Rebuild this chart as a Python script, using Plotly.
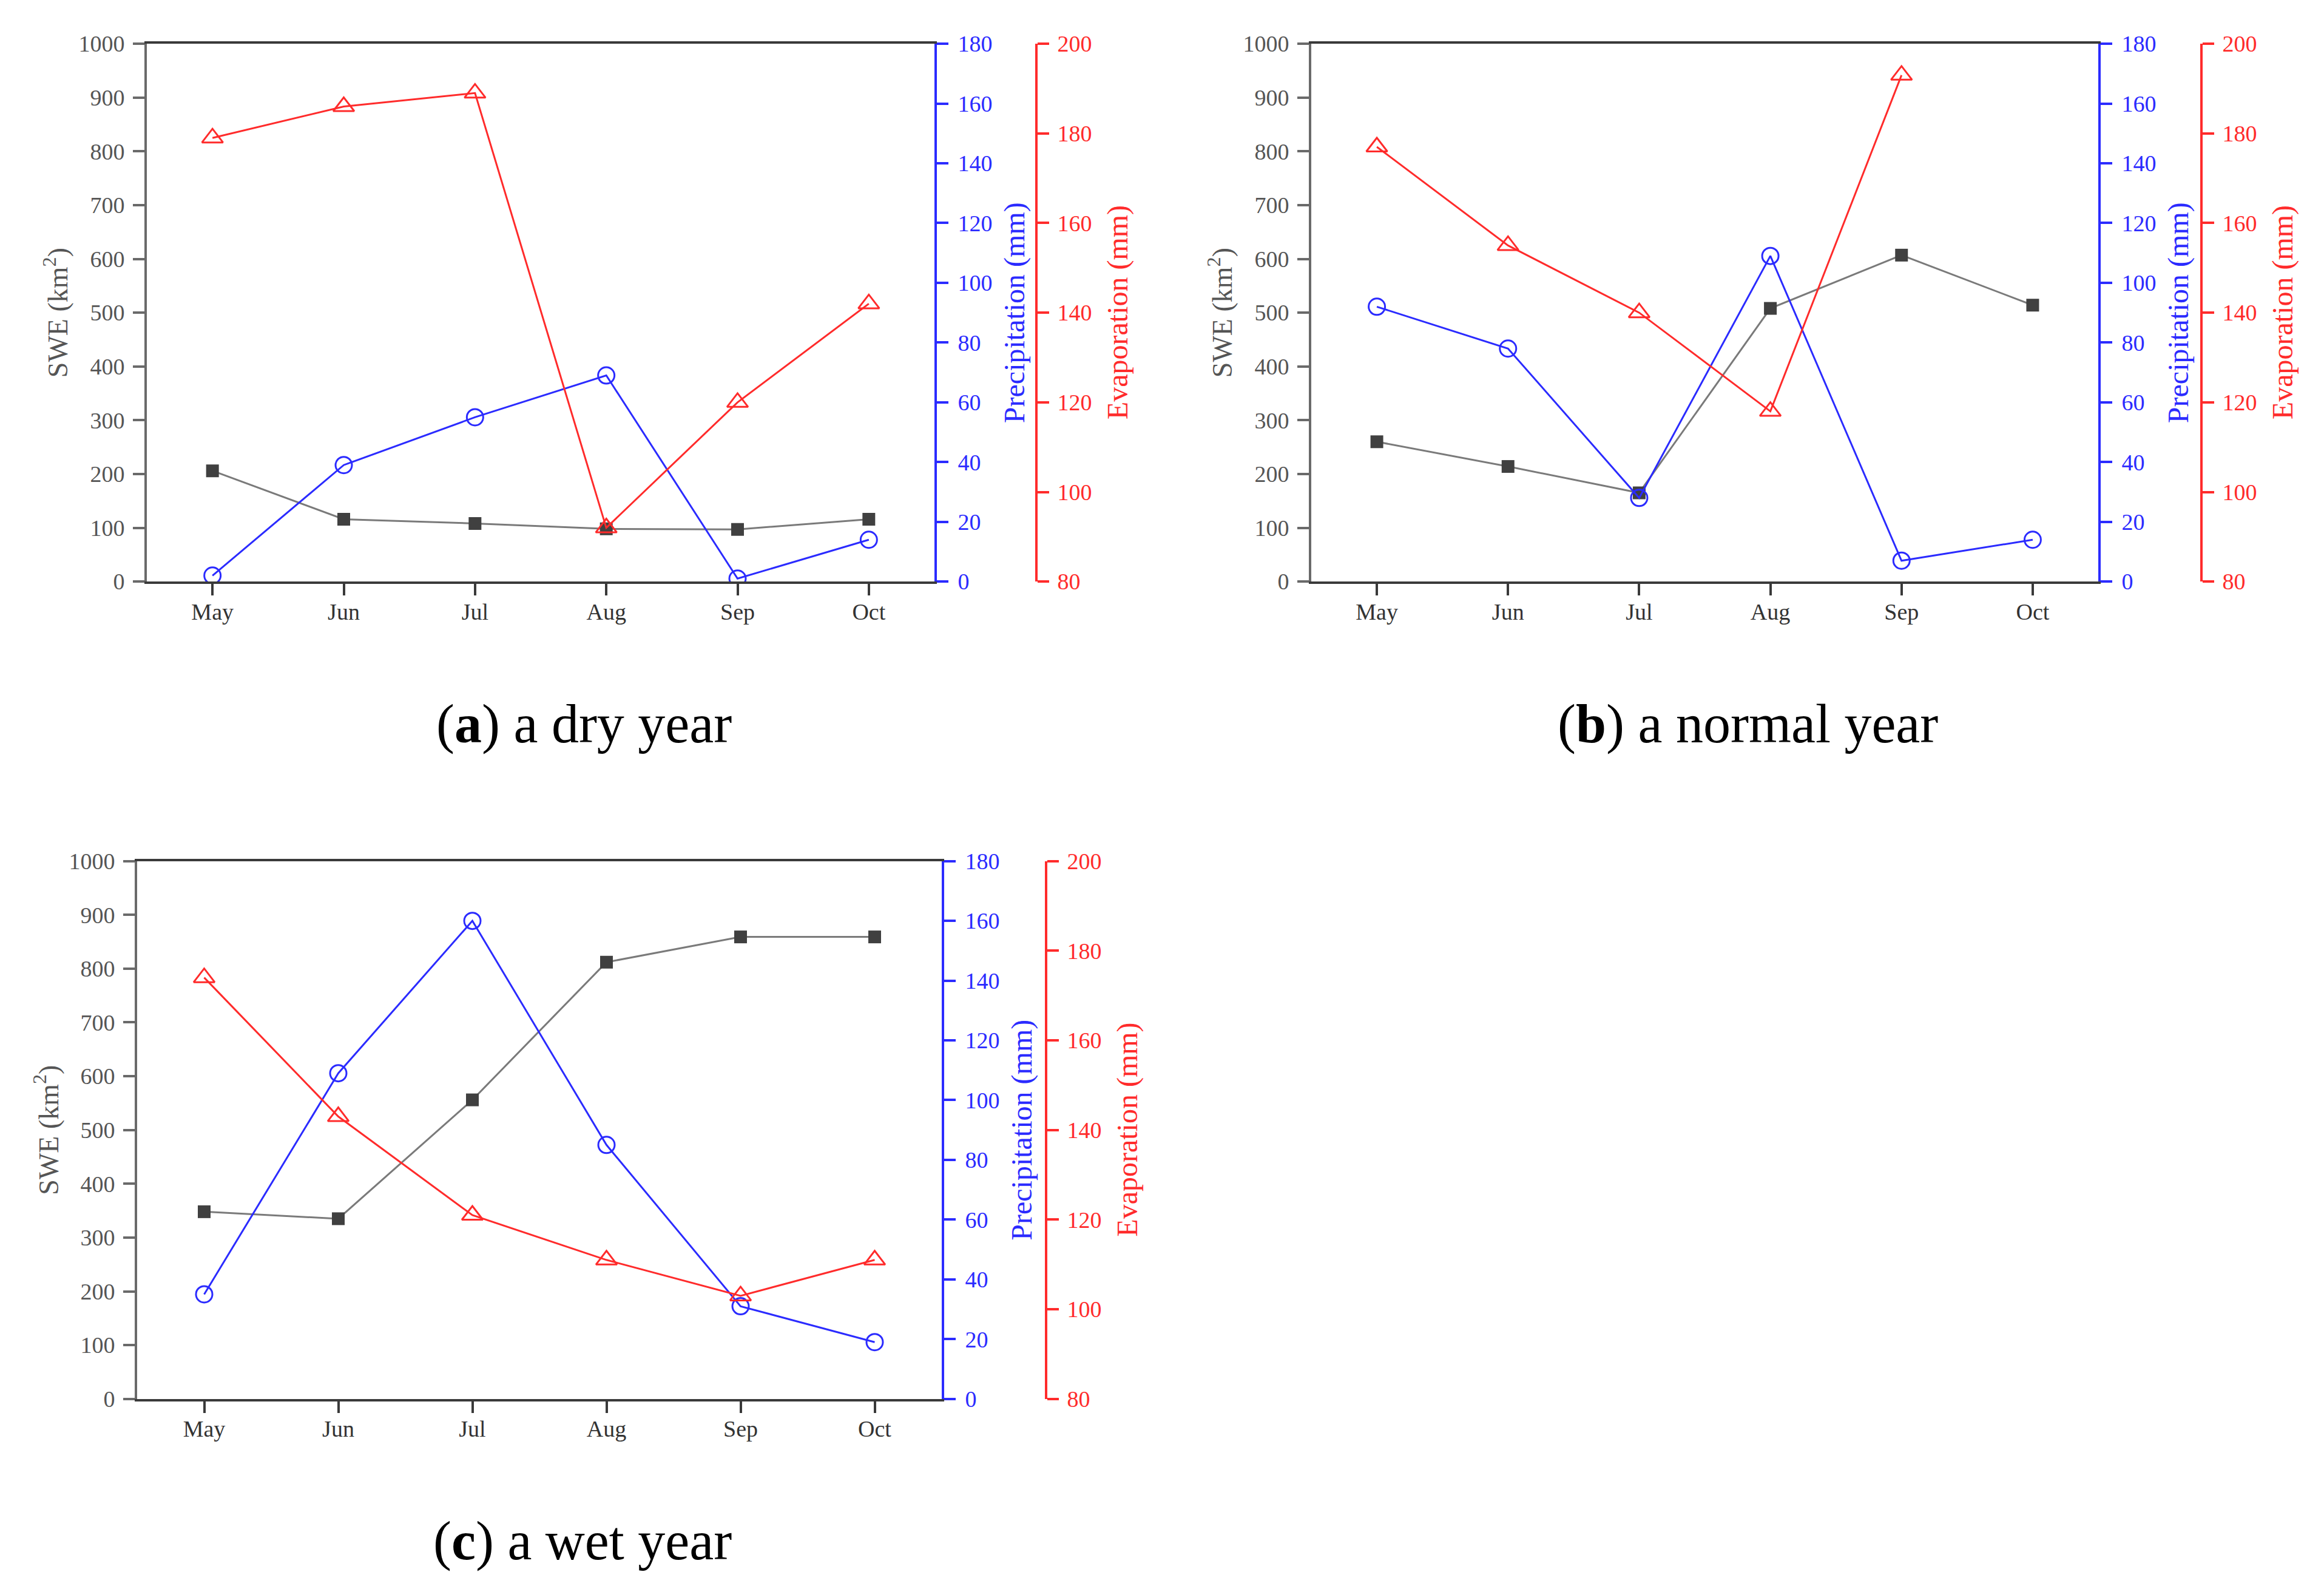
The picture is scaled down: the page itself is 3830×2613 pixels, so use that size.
import plotly.graph_objects as go

W, H = 3830, 2613

months = ["May", "Jun", "Jul", "Aug", "Sep", "Oct"]

swe_dry = [206, 116, 108, 98, 97, 116]
precip_dry = [2, 39, 55, 69, 1, 14]
evap_dry = [179, 186, 189, 92, 120, 142]

swe_normal = [260, 214, 165, 508, 607, 514]
precip_normal = [92, 78, 28, 109, 7, 14]
evap_normal = [177, 155, 140, 118, 193, None]

swe_wet = [348, 335, 556, 812, 859, 859]
precip_wet = [35, 109, 160, 85, 31, 19]
evap_wet = [174, 143, 121, 111, 103, 111]

captions = ["(<b>a</b>) a dry year", "(<b>b</b>) a normal year", "(<b>c</b>) a wet year"]

swe_ticks = list(range(0, 1001, 100))
precip_ticks = list(range(0, 181, 20))
evap_ticks = list(range(80, 201, 20))

FONT = "Liberation Serif, Times New Roman, serif"
GRAY_LINE = "#7a7a7a"
GRAY_MK = "#404040"
AX_GRAY = "#555555"
BLUE = "#2b2bff"
RED = "#ff2b2b"

# panel geometry in pixels: left axis x, blue axis x, red axis x, top y, bottom y, caption y
panels = [
    dict(left=242, right=1540, red=1708, top=70, bottom=957, cap_y=1192,
         swe=swe_dry, pre=precip_dry, eva=evap_dry, cap=captions[0]),
    dict(left=2161, right=3458, red=3628, top=70, bottom=957, cap_y=1192,
         swe=swe_normal, pre=precip_normal, eva=evap_normal, cap=captions[1]),
    dict(left=226, right=1552, red=1724, top=1418, bottom=2305, cap_y=2540,
         swe=swe_wet, pre=precip_wet, eva=evap_wet, cap=captions[2]),
]

# vertical calibration of the rendered page
Y_OFF, Y_SCALE = 18.8, 0.985


def px(xp):
    return xp / W


def py(yp):
    return 1 - ((yp - Y_OFF) / Y_SCALE) / H


fig = go.Figure()
layout = dict(
    width=W, height=H, margin=dict(l=0, r=0, t=0, b=0),
    paper_bgcolor="white", plot_bgcolor="white", showlegend=False,
    font=dict(family=FONT, size=38, color=AX_GRAY),
)
annotations = []

TL = 19
TW = 4
LW = 4

for i, p in enumerate(panels):
    xn = "" if i == 0 else str(i + 1)
    y1 = 3 * i + 1
    y2 = y1 + 1
    y3 = y1 + 2
    yn1 = "" if y1 == 1 else str(y1)
    xref = "x" + xn
    yref1 = "y" + yn1
    yref2 = "y" + str(y2)
    yref3 = "y" + str(y3)

    fig.add_trace(go.Scatter(
        x=months, y=p["swe"], xaxis=xref, yaxis=yref1, mode="lines+markers",
        line=dict(color=GRAY_LINE, width=3),
        marker=dict(symbol="square", size=21, color=GRAY_MK),
        name="SWE"))
    fig.add_trace(go.Scatter(
        x=months, y=p["pre"], xaxis=xref, yaxis=yref2, mode="lines+markers",
        line=dict(color=BLUE, width=3),
        marker=dict(symbol="circle-open", size=27, color=BLUE, line=dict(width=3)),
        name="Precipitation"))
    fig.add_trace(go.Scatter(
        x=months, y=p["eva"], xaxis=xref, yaxis=yref3, mode="lines+markers",
        line=dict(color=RED, width=3),
        marker=dict(symbol="triangle-up-open", size=30, color=RED, line=dict(width=3)),
        name="Evaporation", connectgaps=False))

    dom_x = [px(p["left"]), px(p["right"])]
    dom_y = [py(p["bottom"]), py(p["top"])]

    layout["xaxis" + xn] = dict(
        domain=dom_x, anchor=yref1, type="category", range=[-0.5, 5.5],
        showline=True, linecolor="#3a3a3a", linewidth=LW, mirror=True,
        ticks="outside", ticklen=TL, tickwidth=TW, tickcolor="#3a3a3a",
        tickfont=dict(family=FONT, size=38, color="#333333"),
        ticklabelstandoff=-6,
        showgrid=False, zeroline=False, categoryorder="array", categoryarray=months)
    layout["yaxis" + yn1] = dict(
        domain=dom_y, anchor=xref, range=[0, 1000], tickvals=swe_ticks,
        showline=True, linecolor="#6a6a6a", linewidth=LW,
        ticks="outside", ticklen=TL, tickwidth=TW, tickcolor="#6a6a6a",
        tickfont=dict(family=FONT, size=38, color=AX_GRAY),
        ticklabelstandoff=6,
        showgrid=False, zeroline=False)
    layout["yaxis" + str(y2)] = dict(
        overlaying=yref1, anchor=xref, side="right", range=[0, 180], tickvals=precip_ticks,
        showline=True, linecolor=BLUE, linewidth=LW,
        ticks="outside", ticklen=TL, tickwidth=TW, tickcolor=BLUE,
        tickfont=dict(family=FONT, size=38, color=BLUE),
        ticklabelstandoff=8,
        showgrid=False, zeroline=False)
    layout["yaxis" + str(y3)] = dict(
        overlaying=yref1, anchor="free", position=px(p["red"]), side="right",
        range=[80, 200], tickvals=evap_ticks,
        showline=True, linecolor=RED, linewidth=LW,
        ticks="outside", ticklen=TL, tickwidth=TW, tickcolor=RED,
        tickfont=dict(family=FONT, size=38, color=RED),
        ticklabelstandoff=6,
        showgrid=False, zeroline=False)

    ymid = py((p["top"] + p["bottom"]) / 2)
    annotations.append(dict(
        text="SWE (km<sup>2</sup>)", xref="paper", yref="paper",
        x=px(p["left"] - 150), y=ymid, textangle=-90, showarrow=False,
        xanchor="center", yanchor="middle",
        font=dict(family=FONT, size=46, color=AX_GRAY)))
    annotations.append(dict(
        text="Precipitation (mm)", xref="paper", yref="paper",
        x=px(p["right"] + 132), y=ymid, textangle=-90, showarrow=False,
        xanchor="center", yanchor="middle",
        font=dict(family=FONT, size=48, color=BLUE)))
    annotations.append(dict(
        text="Evaporation (mm)", xref="paper", yref="paper",
        x=px(p["red"] + 134), y=ymid, textangle=-90, showarrow=False,
        xanchor="center", yanchor="middle",
        font=dict(family=FONT, size=48, color=RED)))
    annotations.append(dict(
        text=p["cap"], xref="paper", yref="paper",
        x=px((p["left"] + p["right"]) / 2 + 71), y=py(p["cap_y"]),
        showarrow=False, xanchor="center", yanchor="middle",
        font=dict(family=FONT, size=90, color="black")))

layout["annotations"] = annotations
fig.update_layout(**layout)
fig.write_html("out.html")
